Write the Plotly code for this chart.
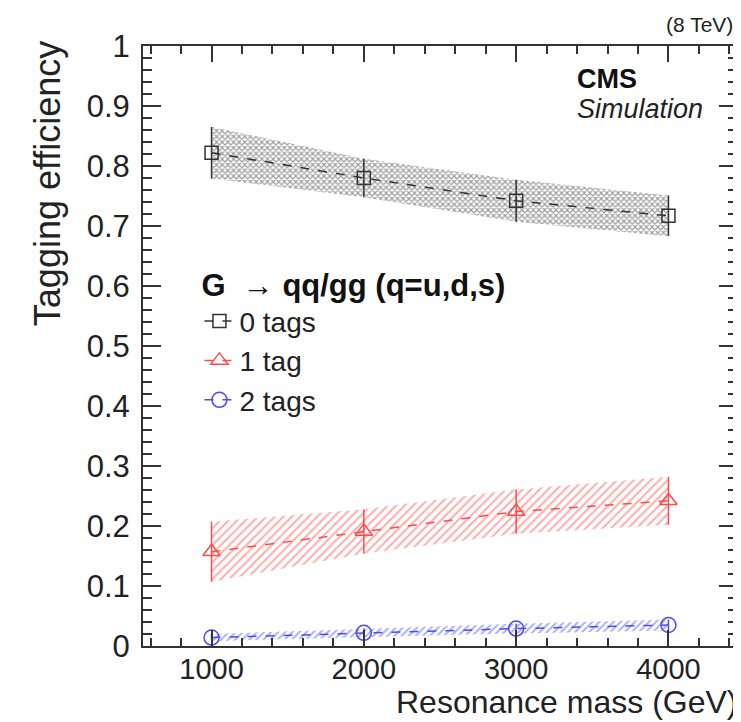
import plotly.graph_objects as go

# ---- data ----
mass = [1000, 2000, 3000, 4000]
eff_0tag = [0.822, 0.780, 0.742, 0.717]
err_0tag = [0.043, 0.032, 0.035, 0.034]
eff_1tag = [0.157, 0.191, 0.224, 0.242]
err_1tag = [0.050, 0.037, 0.037, 0.040]
eff_2tag = [0.014, 0.022, 0.029, 0.035]
err_2tag = [0.006, 0.007, 0.008, 0.009]

labels = ["0 tags", "1 tag", "2 tags"]
legend_header = "<b>G  \u2192 qq/gg (q=u,d,s)</b>"

FONT = "Liberation Sans, Arial, Helvetica, sans-serif"
series = [
    (labels[0], eff_0tag, err_0tag, "#333333", "square-open", 13,
     dict(shape="x", fgcolor="#3a3a3a", size=4, solidity=0.5)),
    (labels[1], eff_1tag, err_1tag, "#ff4a4a", "triangle-up-open", 15,
     dict(shape="/", fgcolor="#ff5a5a", size=6, solidity=0.35)),
    (labels[2], eff_2tag, err_2tag, "#4a4aff", "circle-open", 15,
     dict(shape="/", fgcolor="#5a5aff", size=5, solidity=0.4)),
]

fig = go.Figure()

# uncertainty bands
for name, eff, err, col, sym, msz, pat in series:
    up = [e + d for e, d in zip(eff, err)]
    lo = [e - d for e, d in zip(eff, err)]
    fig.add_trace(go.Scatter(
        x=mass + mass[::-1], y=up + lo[::-1],
        mode="lines", fill="toself", line=dict(width=0),
        fillcolor="rgba(0,0,0,0)", fillpattern=dict(bgcolor="rgba(0,0,0,0)", **pat),
        hoverinfo="skip", showlegend=False))

# central values
for name, eff, err, col, sym, msz, pat in series:
    fig.add_trace(go.Scatter(
        x=mass, y=eff, name=name, mode="lines+markers",
        line=dict(color=col, width=1.5, dash="dash"),
        marker=dict(symbol=sym, size=msz, color=col, line=dict(color=col, width=1.5)),
        error_y=dict(type="data", array=err, visible=True, color=col, thickness=1.5, width=0),
    ))

axis_common = dict(
    showline=True, linecolor="#333333", linewidth=2, mirror="allticks",
    ticks="inside", tickcolor="#333333", tickwidth=1.5,
    showgrid=False, zeroline=False,
)

fig.update_layout(
    width=741, height=722,
    margin=dict(l=135, r=10, t=38, b=84),
    paper_bgcolor="white", plot_bgcolor="white",
    font=dict(family=FONT, color="#222222"),
    xaxis=dict(range=[550, 4450], tick0=0, dtick=1000, ticklen=16, ticklabelstandoff=-4,
               tickfont=dict(family=FONT, size=29, color="#222222"),
               minor=dict(dtick=200, ticklen=8, ticks="inside", tickcolor="#333333", tickwidth=1.5),
               **axis_common),
    yaxis=dict(range=[0, 1], tick0=0, dtick=0.1, ticklen=18, ticklabelstandoff=5,
               tickfont=dict(family=FONT, size=31, color="#222222"),
               minor=dict(dtick=0.02, ticklen=9, ticks="inside", tickcolor="#333333", tickwidth=1.5),
               **axis_common),
    legend=dict(x=0.095, y=0.65, xanchor="left", yanchor="top",
                bgcolor="rgba(0,0,0,0)", borderwidth=0,
                font=dict(family=FONT, size=28, color="#222222"),
                title=dict(text=legend_header, font=dict(family=FONT, size=31, color="#111111")),
                tracegroupgap=0),
    annotations=[
        dict(text="Resonance mass (GeV)", xref="paper", yref="paper", x=1.003, y=-0.094,
             xanchor="right", yanchor="middle", showarrow=False,
             font=dict(family=FONT, size=32, color="#222222")),
        dict(text="Tagging efficiency", xref="paper", yref="paper", x=-0.161, y=0.772,
             xanchor="center", yanchor="middle", textangle=-90, showarrow=False,
             font=dict(family=FONT, size=36, color="#222222")),
        dict(text="<b>CMS</b>", xref="paper", yref="paper", x=0.728, y=0.945,
             xanchor="left", yanchor="middle", showarrow=False,
             font=dict(family=FONT, size=27, color="#111111")),
        dict(text="<i>Simulation</i>", xref="paper", yref="paper", x=0.728, y=0.895,
             xanchor="left", yanchor="middle", showarrow=False,
             font=dict(family=FONT, size=27, color="#222222")),
        dict(text="(8 TeV)", xref="paper", yref="paper", x=0.996, y=1.036,
             xanchor="right", yanchor="middle", showarrow=False,
             font=dict(family=FONT, size=21, color="#222222")),
    ],
)

fig.write_html("out.html")
